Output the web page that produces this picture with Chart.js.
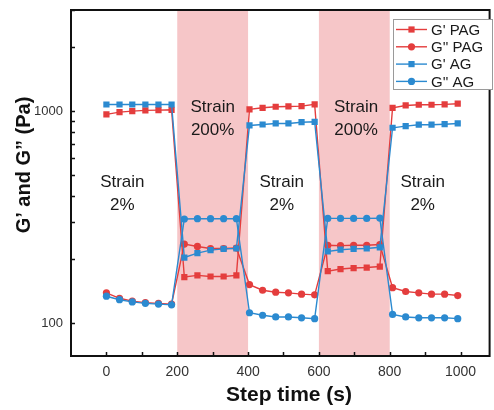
<!DOCTYPE html>
<html>
<head>
<meta charset="utf-8">
<script src="https://cdn.jsdelivr.net/npm/chart.js@4"></script>
<style>
  html, body { margin: 0; padding: 0; background: #fff; }
</style>
</head>
<body>
<canvas id="chart" width="494" height="410"></canvas>
<script>
// step times (s)
const times = [0, 37, 73, 110, 147, 184, 220, 257, 294, 331, 367, 404, 441, 478, 514, 551, 588, 625, 661, 698, 735, 772, 808, 845, 882, 918, 955, 992];

// moduli (Pa)
const gPrimePAG  = [965, 989, 1000, 1008, 1011, 1015, 165, 168, 166, 166, 168, 1019, 1037, 1049, 1052, 1056, 1076, 176, 180, 182, 183, 185, 1037, 1064, 1072, 1072, 1076, 1084];
const gDoublePAG = [139, 131, 127, 125, 124, 123, 236, 230, 225, 225, 226, 152, 143, 140, 139, 137, 136, 233, 232, 233, 233, 235, 147, 141, 139, 137, 137, 135];
const gPrimeAG   = [1075, 1075, 1075, 1075, 1075, 1075, 204, 214, 221, 224, 225, 856, 865, 875, 875, 887, 891, 218, 222, 224, 225, 228, 835, 850, 863, 863, 868, 875];
const gDoubleAG  = [134, 129, 126, 124, 123, 122, 310, 311, 311, 311, 311, 112, 109, 107, 107, 106, 105, 312, 312, 312, 312, 313, 110, 107, 106, 106, 106, 105];

const seriesNames = ["G' PAG", "G'' PAG", "G' AG", "G'' AG"];

// high strain windows
const bandStart = [200, 600];
const bandEnd = [400, 800];

// strain labels
const stepLabelX = [45, 300, 495, 705, 893];
const stepStrain = ["2%", "200%", "2%", "200%", "2%"];

const xLabels = [0, 200, 400, 600, 800, 1000];
const xMinor = [100, 300, 500, 700, 900];
const yLabels = [100, 1000];
const yMinor = [200, 300, 400, 500, 600, 700, 800, 900, 2000, 3000];

const xTitle = "Step time (s)";
const yTitle = "G\u2019 and G\u201d (Pa)";

const RED = "#e43d3d";
const BLUE = "#2b8ad0";
const FONT = "'Liberation Sans', Arial, sans-serif";

function pts(ys) {
  return times.map((t, i) => ({x: t, y: ys[i]}));
}

function mkSet(label, ys, color, shape, order) {
  return {
    label: label,
    data: pts(ys),
    borderColor: color,
    backgroundColor: color,
    borderWidth: 1.4,
    pointStyle: shape,
    pointRadius: shape === "rect" ? 4.4 : 3.6,
    pointBorderWidth: 0,
    tension: 0,
    order: order
  };
}

function noPad(s) {
  s.paddingTop = 0;
  s.paddingBottom = 0;
  s.paddingLeft = 0;
  s.paddingRight = 0;
}

const bands = {
  id: "bands",
  beforeDatasetsDraw(chart) {
    let ctx = chart.ctx, a = chart.chartArea, x = chart.scales.x;
    ctx.save();
    ctx.fillStyle = "#f6c6c8";
    bandStart.forEach((s, i) => {
      let x0 = x.getPixelForValue(s), x1 = x.getPixelForValue(bandEnd[i]);
      ctx.fillRect(x0, a.top, x1 - x0, a.bottom - a.top);
    });
    ctx.restore();
  }
};

const frame = {
  id: "frame",
  afterDatasetsDraw(chart) {
    let ctx = chart.ctx, a = chart.chartArea;
    let x = chart.scales.x, y = chart.scales.y;
    ctx.save();

    // strain text
    ctx.fillStyle = "#1a1a1a";
    ctx.font = "17px " + FONT;
    ctx.textAlign = "center";
    ctx.textBaseline = "middle";
    stepLabelX.forEach((v, i) => {
      let px = x.getPixelForValue(v);
      let py = stepStrain[i] === "200%" ? 107 : 182;
      ctx.fillText("Strain", px, py);
      ctx.fillText(stepStrain[i], px, py + 23);
    });

    // axis titles
    ctx.fillStyle = "#111";
    ctx.font = "bold 21px " + FONT;
    ctx.fillText(xTitle, 289, 395);
    ctx.save();
    ctx.translate(24, 165);
    ctx.rotate(-Math.PI / 2);
    ctx.font = "bold 20px " + FONT;
    ctx.fillText(yTitle, 0, 0);
    ctx.restore();

    // box + inward ticks
    ctx.strokeStyle = "#111";
    ctx.lineWidth = 2;
    ctx.strokeRect(a.left, a.top, a.right - a.left, a.bottom - a.top);
    ctx.lineWidth = 1.5;
    ctx.beginPath();
    xLabels.concat(xMinor).forEach(v => {
      let px = Math.round(x.getPixelForValue(v)) + 0.5;
      ctx.moveTo(px, a.bottom);
      ctx.lineTo(px, a.bottom - 4);
    });
    yLabels.concat(yMinor).forEach(v => {
      let py = Math.round(y.getPixelForValue(v)) + 0.5;
      ctx.moveTo(a.left, py);
      ctx.lineTo(a.left + 4, py);
    });
    ctx.stroke();
    ctx.restore();
  }
};

const legendBox = {
  id: "legendBox",
  afterDraw(chart) {
    let ctx = chart.ctx;
    let bx = 393, by = 19, bw = 99, bh = 70;
    ctx.save();
    ctx.fillStyle = "#fff";
    ctx.fillRect(bx, by, bw, bh);
    ctx.strokeStyle = "#9a9a9a";
    ctx.lineWidth = 1;
    ctx.strokeRect(bx + 0.5, by + 0.5, bw, bh);
    ctx.font = "15px " + FONT;
    ctx.textBaseline = "middle";
    chart.data.datasets.forEach((ds, i) => {
      let yy = 29.5 + i * 17.3;
      ctx.strokeStyle = ds.borderColor;
      ctx.lineWidth = 1.4;
      ctx.beginPath();
      ctx.moveTo(396, yy);
      ctx.lineTo(427, yy);
      ctx.stroke();
      ctx.fillStyle = ds.borderColor;
      Chart.helpers.drawPoint(ctx, {pointStyle: ds.pointStyle, radius: ds.pointRadius, borderWidth: 0}, 411.5, yy);
      ctx.fillStyle = "#1a1a1a";
      ctx.fillText(ds.label, 431, yy + 1);
    });
    ctx.restore();
  }
};

new Chart(document.getElementById("chart"), {
  type: "line",
  data: {
    datasets: [
      mkSet(seriesNames[0], gPrimePAG, RED, "rect", 2),
      mkSet(seriesNames[1], gDoublePAG, RED, "circle", 2),
      mkSet(seriesNames[2], gPrimeAG, BLUE, "rect", 1),
      mkSet(seriesNames[3], gDoubleAG, BLUE, "circle", 1)
    ]
  },
  options: {
    responsive: false,
    animation: false,
    layout: {padding: {top: 10, right: 1, left: 0, bottom: 0}},
    plugins: {legend: {display: false}, tooltip: {enabled: false}},
    scales: {
      x: {
        type: "linear",
        min: -100,
        max: 1082,
        afterBuildTicks: s => { s.ticks = xLabels.map(v => ({value: v})); },
        afterFit: s => { s.height = 54; noPad(s); },
        grid: {display: false, drawTicks: false},
        border: {display: false},
        ticks: {
          autoSkip: false,
          maxRotation: 0,
          padding: 8,
          color: "#333",
          font: {size: 14, family: FONT},
          callback: v => String(v)
        }
      },
      y: {
        type: "logarithmic",
        min: 70,
        max: 3000,
        afterBuildTicks: s => { s.ticks = yLabels.map(v => ({value: v})); },
        afterFit: s => { s.width = 71; noPad(s); },
        grid: {display: false, drawTicks: false},
        border: {display: false},
        ticks: {
          autoSkip: false,
          padding: 8,
          color: "#333",
          font: {size: 13, family: FONT},
          callback: v => String(v)
        }
      }
    }
  },
  plugins: [bands, frame, legendBox]
});
</script>
</body>
</html>
